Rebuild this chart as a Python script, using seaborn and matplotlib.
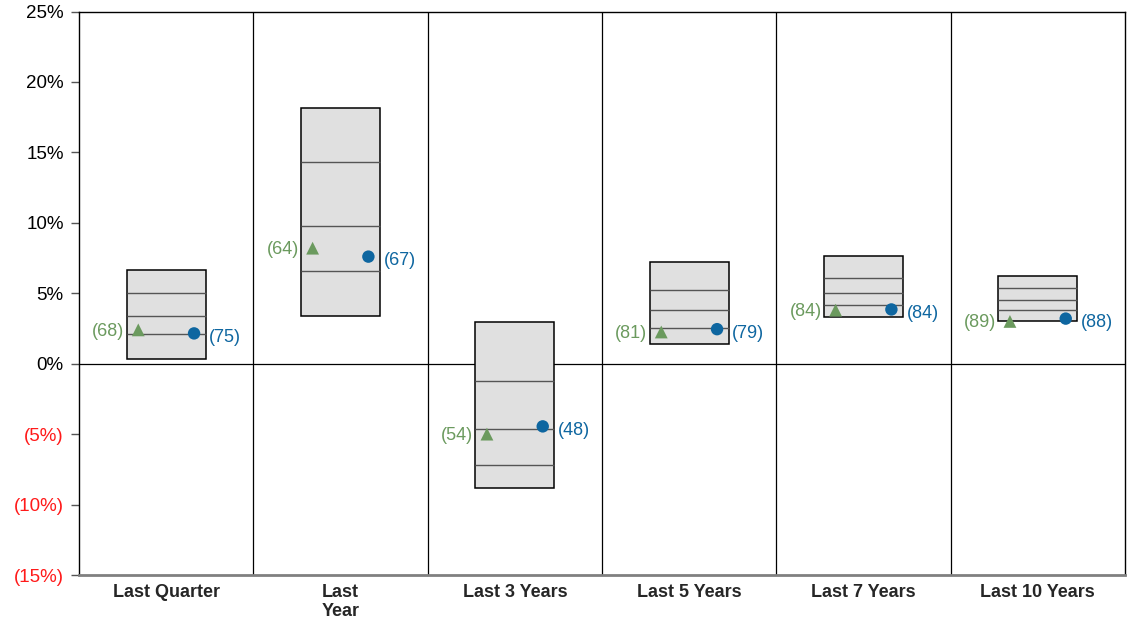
import numpy as np
import pandas as pd
import matplotlib
matplotlib.use('Agg')
import matplotlib.pyplot as plt
import seaborn as sns

# chart values (percent)
periods = ['Last Quarter', 'Last\nYear', 'Last 3 Years', 'Last 5 Years', 'Last 7 Years', 'Last 10 Years']
pct_95 = [6.65, 18.15, 2.95, 7.25, 7.65, 6.2]
pct_75 = [5.05, 14.35, -1.2, 5.25, 6.05, 5.35]
pct_50 = [3.4, 9.75, -4.65, 3.8, 5.05, 4.5]
pct_25 = [2.1, 6.55, -7.2, 2.55, 4.15, 3.8]
pct_05 = [0.35, 3.35, -8.85, 1.4, 3.3, 3.05]
fund_ret = [2.4, 8.2, -5.0, 2.25, 3.8, 3.0]
bench_ret = [2.15, 7.6, -4.45, 2.45, 3.85, 3.2]
fund_rank = [68, 64, 54, 81, 84, 89]
bench_rank = [75, 67, 48, 79, 84, 88]
y_ticks = [-15, -10, -5, 0, 5, 10, 15, 20, 25]

GREEN = '#6b9a5e'
BLUE = '#0e66a0'

sns.set_style('white')
plt.rcParams['font.family'] = ['Liberation Sans', 'DejaVu Sans']

fig = plt.figure(figsize=(11.31, 6.22), dpi=100)
ax = fig.add_axes([79 / 1131, 47 / 622, 1046 / 1131, 563.5 / 622])

x = np.arange(len(periods))
lo = np.array(pct_05)
hi = np.array(pct_95)
ax.bar(x, hi - lo, bottom=lo, width=0.455, color='#e0e0e0', edgecolor='black', linewidth=1.1, zorder=2)
for vals in (pct_75, pct_50, pct_25):
    ax.hlines(vals, x - 0.2275, x + 0.2275, color='#555555', linewidth=1.0, zorder=3)

df = pd.DataFrame({'x': x, 'fund': fund_ret, 'bench': bench_ret})
sns.scatterplot(x=df['x'] - 0.16, y=df['fund'], marker='^', s=85, color=GREEN, edgecolor='none', ax=ax, zorder=4)
sns.scatterplot(x=df['x'] + 0.16, y=df['bench'], marker='o', s=80, color=BLUE, edgecolor='none', ax=ax, zorder=4)

for i in range(len(periods)):
    ax.annotate('({})'.format(fund_rank[i]), (x[i] - 0.16, fund_ret[i]), xytext=(-10, -1),
                textcoords='offset points', ha='right', va='center', color=GREEN, fontsize=13)
    ax.annotate('({})'.format(bench_rank[i]), (x[i] + 0.16, bench_ret[i]), xytext=(11, -3),
                textcoords='offset points', ha='left', va='center', color=BLUE, fontsize=13)

# column dividers and zero line
for d in x[:-1] + 0.5:
    ax.axvline(d, color='black', linewidth=0.9, zorder=1)
ax.axhline(0, color='black', linewidth=0.9, zorder=1)

ax.set_xlim(-0.5, len(periods) - 0.5)
ax.set_ylim(-15, 25)
ax.set_yticks(y_ticks)
ax.set_yticklabels(['({}%)'.format(-t) if t < 0 else '{}%'.format(t) for t in y_ticks], fontsize=13.5)
for lbl, t in zip(ax.get_yticklabels(), y_ticks):
    lbl.set_color('#ff1a1a' if t < 0 else 'black')
ax.tick_params(axis='y', left=True, length=6, width=1, color='#555555', pad=5)
ax.set_xticks(x)
ax.set_xticklabels(periods, fontsize=13, fontweight='bold', linespacing=1.15)
ax.tick_params(axis='x', bottom=False, pad=3)
ax.set_xlabel('')
ax.set_ylabel('')

for side in ('left', 'top', 'right'):
    ax.spines[side].set_color('black')
    ax.spines[side].set_linewidth(1.0)
ax.spines['bottom'].set_color('#808080')
ax.spines['bottom'].set_linewidth(2.0)

fig.savefig('out.png', dpi=100)
